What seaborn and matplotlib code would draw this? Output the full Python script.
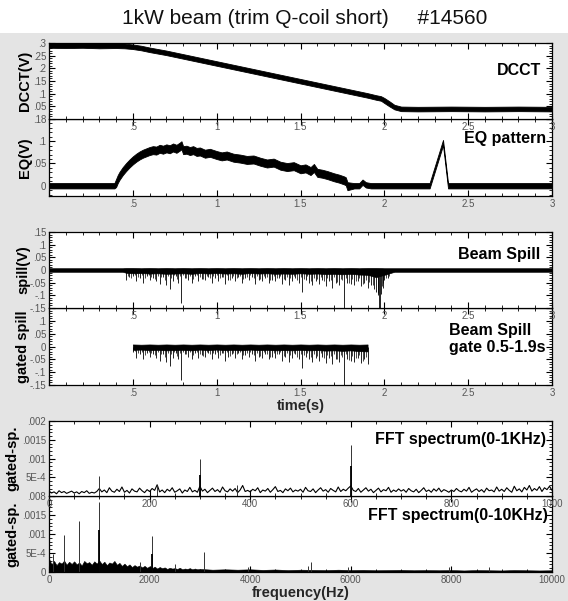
import numpy as np
import matplotlib
matplotlib.use("Agg")
import matplotlib.pyplot as plt
import seaborn as sns
from matplotlib.ticker import MultipleLocator
from matplotlib.patches import Rectangle

sns.set_style("ticks")
plt.rcParams['font.family'] = ['Liberation Sans', 'DejaVu Sans']

# ---------------- data ----------------
title = "1kW beam (trim Q-coil short)     #14560"

# DCCT band (upper / lower edge of the noisy trace)
dcct_t  = [0.0, 0.1, 0.2, 0.3, 0.4, 0.45, 0.5, 0.55, 0.6, 0.7, 0.8, 0.9, 1.0, 1.1, 1.2, 1.3, 1.4, 1.5,
           1.6, 1.7, 1.8, 1.9, 1.95, 1.98, 2.0, 2.03, 2.06, 2.1, 2.2, 2.4, 2.6, 2.8, 3.0]
dcct_hi = [0.300, 0.299, 0.300, 0.298, 0.299, 0.298, 0.294, 0.289, 0.282, 0.270, 0.256, 0.242, 0.228,
           0.214, 0.200, 0.186, 0.172, 0.158, 0.144, 0.130, 0.116, 0.102, 0.094, 0.090, 0.083, 0.070,
           0.056, 0.049, 0.048, 0.049, 0.048, 0.049, 0.048]
dcct_lo = [0.281, 0.280, 0.281, 0.279, 0.280, 0.279, 0.276, 0.271, 0.264, 0.252, 0.238, 0.224, 0.210,
           0.196, 0.182, 0.168, 0.154, 0.140, 0.126, 0.112, 0.098, 0.084, 0.076, 0.072, 0.063, 0.050,
           0.038, 0.031, 0.030, 0.031, 0.030, 0.031, 0.030]

# EQ pattern: centre of the noisy trace and its half thickness
eq_t = [0.0, 0.2, 0.39, 0.40, 0.41, 0.42, 0.44, 0.46, 0.48, 0.5, 0.52, 0.54, 0.56, 0.58, 0.6, 0.62,
        0.64, 0.66, 0.68, 0.7, 0.72, 0.74, 0.76, 0.78, 0.79, 0.80, 0.82, 0.84, 0.86, 0.88, 0.9, 0.93,
        0.96, 1.0, 1.03, 1.06, 1.1, 1.14, 1.18, 1.22, 1.26, 1.3, 1.34, 1.38, 1.42, 1.46, 1.5, 1.53,
        1.56, 1.58, 1.6, 1.63, 1.66, 1.7, 1.73, 1.76, 1.77, 1.78, 1.82, 1.85, 1.87, 1.89, 1.92, 2.0,
        2.27, 2.35, 2.38, 2.4, 2.7, 3.0]
eq_c = [0, 0, 0, 0.006, 0.015, 0.022, 0.033, 0.042, 0.050, 0.057, 0.063, 0.068, 0.072, 0.075, 0.078,
        0.080, 0.079, 0.083, 0.081, 0.084, 0.082, 0.086, 0.083, 0.088, 0.091, 0.080, 0.081, 0.078,
        0.080, 0.076, 0.077, 0.072, 0.074, 0.069, 0.066, 0.068, 0.063, 0.061, 0.058, 0.059, 0.054,
        0.050, 0.052, 0.045, 0.042, 0.044, 0.037, 0.039, 0.033, 0.040, 0.029, 0.027, 0.024, 0.019,
        0.016, 0.012, 0.010, -0.001, 0.0, 0.0, 0.008, 0.002, 0.0, 0.0, 0.0, 0.097, 0.0, 0.0, 0.0, 0.0]
eq_w = [0.006] * 3 + [0.009] * 55 + [0.006] * 12

# Beam spill: dense noise band and negative spikes
spill_t  = [0.0, 0.44, 0.46, 0.5, 0.55, 0.6, 0.65, 0.7, 0.75, 0.8, 0.85, 0.9, 0.95, 1.0, 1.05, 1.1,
            1.15, 1.2, 1.25, 1.3, 1.35, 1.4, 1.45, 1.5, 1.55, 1.6, 1.65, 1.7, 1.75, 1.8, 1.85, 1.9,
            1.95, 2.0, 2.04, 2.06, 3.0]
spill_hi = [0.007, 0.007, 0.008, 0.008, 0.007, 0.008, 0.007, 0.008, 0.007, 0.008, 0.007, 0.008,
            0.007, 0.008, 0.007, 0.008, 0.007, 0.008, 0.007, 0.008, 0.007, 0.008, 0.007, 0.008,
            0.007, 0.008, 0.007, 0.008, 0.007, 0.008, 0.007, 0.008, 0.008, 0.007, 0.007, 0.007, 0.007]
spill_lo = [-0.007, -0.007, -0.011, -0.013, -0.012, -0.014, -0.013, -0.015, -0.014, -0.013, -0.015,
            -0.012, -0.014, -0.012, -0.014, -0.013, -0.015, -0.012, -0.014, -0.013, -0.015, -0.014,
            -0.015, -0.013, -0.015, -0.014, -0.016, -0.015, -0.017, -0.015, -0.018, -0.019, -0.028,
            -0.019, -0.011, -0.007, -0.007]
spk_t = [0.46, 0.48, 0.50, 0.52, 0.545, 0.56, 0.585, 0.60, 0.62, 0.64, 0.66, 0.68, 0.70, 0.72, 0.74,
         0.755, 0.77, 0.79, 0.81, 0.83, 0.85, 0.87, 0.89, 0.91, 0.93, 0.95, 0.97, 0.99, 1.01, 1.03,
         1.05, 1.07, 1.09, 1.11, 1.13, 1.15, 1.17, 1.19, 1.21, 1.23, 1.25, 1.27, 1.29, 1.31, 1.33,
         1.35, 1.37, 1.39, 1.41, 1.43, 1.45, 1.47, 1.49, 1.51, 1.53, 1.55, 1.57, 1.59, 1.61, 1.63,
         1.65, 1.67, 1.69, 1.71, 1.73, 1.76, 1.78, 1.80, 1.82, 1.84, 1.86, 1.88, 1.90, 1.92, 1.94,
         1.95, 1.96, 1.965, 1.97, 1.975, 1.98, 1.99, 2.00, 2.02]
spk_v = [-0.040, -0.028, -0.022, -0.045, -0.030, -0.050, -0.025, -0.040, -0.030, -0.045, -0.055,
         -0.028, -0.060, -0.075, -0.045, -0.025, -0.050, -0.130, -0.030, -0.040, -0.050, -0.024,
         -0.045, -0.035, -0.040, -0.026, -0.050, -0.030, -0.045, -0.027, -0.055, -0.040, -0.030,
         -0.045, -0.026, -0.050, -0.032, -0.040, -0.028, -0.055, -0.040, -0.045, -0.030, -0.050,
         -0.040, -0.045, -0.030, -0.055, -0.040, -0.060, -0.045, -0.030, -0.050, -0.085, -0.040,
         -0.050, -0.060, -0.045, -0.055, -0.040, -0.065, -0.045, -0.070, -0.050, -0.060, -0.150,
         -0.050, -0.055, -0.060, -0.045, -0.065, -0.050, -0.070, -0.060, -0.075, -0.085, -0.090,
         -0.100, -0.150, -0.150, -0.095, -0.070, -0.040, -0.030]
grass_t = [0.47, 0.49, 0.51, 0.53, 0.555, 0.57, 0.595, 0.61, 0.63, 0.65, 0.67, 0.69, 0.71, 0.73,
           0.745, 0.765, 0.78, 0.80, 0.82, 0.84, 0.86, 0.88, 0.90, 0.92, 0.94, 0.96, 0.98, 1.00,
           1.02, 1.04, 1.06, 1.08, 1.10, 1.12, 1.14, 1.16, 1.18, 1.20, 1.22, 1.24, 1.26, 1.28, 1.30,
           1.32, 1.34, 1.36, 1.38, 1.40, 1.42, 1.44, 1.46, 1.48, 1.50, 1.52, 1.54, 1.56, 1.58, 1.60,
           1.62, 1.64, 1.66, 1.68, 1.70, 1.72, 1.74, 1.75, 1.77, 1.79, 1.81, 1.83, 1.85, 1.87, 1.89,
           1.91, 1.93, 1.985, 1.995, 2.01, 2.03]
grass_v = [-0.022, -0.030, -0.019, -0.026, -0.021, -0.033, -0.020, -0.027, -0.035, -0.022, -0.029,
           -0.040, -0.024, -0.031, -0.020, -0.036, -0.025, -0.021, -0.030, -0.023, -0.034, -0.020,
           -0.028, -0.037, -0.022, -0.031, -0.024, -0.020, -0.033, -0.026, -0.021, -0.038, -0.025,
           -0.030, -0.022, -0.035, -0.027, -0.021, -0.032, -0.024, -0.036, -0.022, -0.029, -0.041,
           -0.025, -0.031, -0.023, -0.036, -0.027, -0.033, -0.024, -0.039, -0.028, -0.034, -0.025,
           -0.042, -0.030, -0.036, -0.027, -0.045, -0.032, -0.038, -0.029, -0.047, -0.034, -0.040,
           -0.031, -0.052, -0.036, -0.043, -0.033, -0.055, -0.040, -0.048, -0.060, -0.065, -0.050,
           -0.030, -0.022]
gate = (0.5, 1.9)

# FFT 0-1 kHz (values in units of 1e-4, every 5 Hz)
fft1_f = np.arange(0, 1001, 5)
fft1_v = [1.3, 0.8, 1.1, 0.6, 1.4, 0.9, 1.2, 0.7, 1.0, 1.3, 0.8, 1.1, 0.6, 1.2, 0.9, 1.4, 0.7, 1.0, 0.8, 1.2,
          2.0, 1.1, 1.6, 0.9, 2.2, 1.3, 1.0, 1.8, 1.2, 2.4, 1.0, 1.5, 0.8, 1.9, 1.3, 1.1, 2.1, 1.4, 0.9, 1.7,
          1.2, 2.0, 1.5, 3.0, 1.1, 1.6, 0.9, 1.8, 1.3, 2.2, 1.0, 1.4, 1.9, 0.8, 1.6, 1.2, 2.3, 1.1, 1.5, 1.0,
          2.6, 1.3, 1.8, 0.9, 1.5, 2.1, 1.2, 1.7, 1.0, 2.4, 1.4, 1.1, 1.9, 1.3, 2.0, 0.9, 1.6, 2.8, 1.2, 1.5,
          1.1, 1.8, 1.4, 2.2, 0.9, 1.6, 1.3, 2.0, 1.0, 1.7, 2.5, 1.2, 1.5, 0.9, 1.9, 1.4, 2.1, 1.1, 1.6, 1.3,
          1.8, 1.0, 2.3, 1.4, 1.2, 1.9, 0.9, 1.6, 2.2, 1.3, 1.7, 1.0, 2.0, 1.5, 1.1, 2.4, 1.2, 1.8, 1.4, 2.1,
          2.7, 1.5, 1.2, 2.0, 1.0, 1.6, 2.2, 1.3, 1.8, 0.9, 1.5, 2.1, 1.1, 1.7, 1.4, 2.3, 1.0, 1.6, 1.2, 1.9,
          1.3, 1.7, 1.0, 2.0, 1.4, 1.1, 1.8, 0.9, 1.5, 2.2, 1.2, 1.6, 1.0, 1.9, 1.3, 2.1, 1.1, 1.7, 1.4, 1.0,
          1.6, 1.2, 2.0, 1.4, 1.1, 1.8, 1.3, 2.3, 1.0, 1.5, 1.9, 1.2, 1.7, 1.0, 2.1, 1.4, 1.6, 1.1, 2.4, 1.3,
          1.8, 1.2, 2.2, 1.5, 1.0, 2.6, 1.4, 1.9, 1.1, 2.3, 1.6, 2.8, 1.3, 2.0, 1.5, 2.5, 1.2, 2.2, 1.7, 2.6,
          1.5]
fft1_pk_f = [100, 215, 300, 373, 600]
fft1_pk_v = [5.3, 3.0, 10.0, 3.0, 13.5]
fft1_in_f = [300, 600]
fft1_in_v = [5.5, 8.0]

# FFT 0-10 kHz noise floor (units of 1e-4): every 50 Hz below 3 kHz, every 250 Hz above
fft10_f = list(range(0, 3000, 50)) + list(range(3000, 10001, 250))
fft10_v = [3.5, 2.0, 2.9, 1.8, 2.6, 2.2, 3.0, 1.9, 2.7, 2.1,
           2.8, 2.0, 2.5, 1.7, 2.9, 2.3, 2.6, 1.9, 2.8, 2.2,
           3.0, 2.1, 2.7, 1.8, 2.5, 2.2, 2.9, 1.9, 2.4, 1.6,
           2.2, 1.5, 2.0, 1.3, 1.8, 1.4, 1.7, 1.2, 1.6, 1.1,
           1.5, 1.0, 1.4, 0.9, 1.3, 1.0, 1.2, 0.8, 1.1, 0.9,
           1.0, 0.8, 1.1, 0.7, 0.9, 0.8, 1.0, 0.7, 0.9, 0.7,
           0.8, 0.6, 0.7, 0.6, 0.7, 0.55, 0.65, 0.5, 0.6, 0.55, 0.5, 0.6, 0.5, 0.55, 0.45,
           0.5, 0.55, 0.45, 0.5, 0.45, 0.5, 0.4, 0.5, 0.45, 0.4, 0.5, 0.45, 0.4, 0.45]
fft10_pk_f = [70, 300, 600, 1000, 1800, 2050, 2500, 3080, 3950, 5150, 5200, 5950, 7950, 8750]
fft10_pk_v = [4.7, 9.7, 13.3, 18.3, 2.6, 9.5, 2.0, 5.3, 1.4, 1.6, 2.6, 1.4, 1.2, 1.3]
fft10_in_f = [1000, 2050]
fft10_in_v = [11.0, 4.7]

# ---------------- figure ----------------
fig = plt.figure(figsize=(5.68, 6.01), dpi=100)
fig.patch.set_facecolor('#e4e4e4')
fig.patches.append(Rectangle((0, 0.945), 1, 0.055, transform=fig.transFigure,
                             facecolor='white', edgecolor='none', zorder=0))
fig.text(0.537, 0.970, title, ha='center', va='center', fontsize=15, color='#111111')

L, W = 49 / 568, 503 / 568
rects = [(0.8020, 0.1265), (0.6739, 0.1281), (0.4875, 0.1265),
         (0.3594, 0.1281), (0.1747, 0.1248), (0.0483, 0.1265)]
axes = []
for i, (b, h) in enumerate(rects):
    ax = fig.add_axes([L, b, W, h])
    ax.set_zorder(10 - i)
    ax.set_facecolor('white')
    axes.append(ax)
ax1, ax2, ax3, ax4, ax5, ax6 = axes

tick_col = '#555555'
for ax in axes:
    for s in ax.spines.values():
        s.set_visible(True)
        s.set_linewidth(0.9)
        s.set_color('black')
    ax.tick_params(which='both', direction='in', top=True, right=True, bottom=True, left=True,
                   color='black', labelcolor=tick_col, labelsize=7, pad=2)
    ax.tick_params(which='major', length=4, width=0.8)
    ax.tick_params(which='minor', length=2, width=0.6)

time_ticks = [0, 0.5, 1, 1.5, 2, 2.5, 3]
time_lbls = ['', '.5', '1', '1.5', '2', '2.5', '3']
for ax in (ax1, ax2, ax3, ax4):
    ax.set_xlim(0, 3)
    ax.set_xticks(time_ticks, time_lbls)
    ax.xaxis.set_minor_locator(MultipleLocator(0.1))
    ax.yaxis.set_minor_locator(MultipleLocator(0.01))

# panel 1: DCCT
ax1.fill_between(dcct_t, dcct_lo, dcct_hi, color='black', lw=0.6, edgecolor='black')
ax1.set_ylim(0, 0.3)
ax1.set_yticks([0, .05, .1, .15, .2, .25, .3], ['', '.05', '.1', '.15', '.2', '.25', '.3'])

# panel 2: EQ
eq_c_a, eq_w_a = np.array(eq_c), np.array(eq_w)
ax2.fill_between(eq_t, eq_c_a - eq_w_a, eq_c_a + eq_w_a, color='black', lw=0.6, edgecolor='black')
ax2.set_ylim(-0.023, 0.15)
ax2.set_yticks([0, .05, .1, .15], ['0', '.05', '.1', '.18'])

# panel 3: spill
spill_t_a = np.array(spill_t)
ax3.fill_between(spill_t, spill_lo, spill_hi, color='black', lw=0.5, edgecolor='black')
ax3.vlines(spk_t, 0, spk_v, color='black', lw=0.6)
ax3.vlines(grass_t, 0, grass_v, color='black', lw=0.5)
sp_ticks = [-.15, -.1, -.05, 0, .05, .1, .15]
ax3.set_ylim(-0.15, 0.15)
ax3.set_yticks(sp_ticks, ['-.15', '-.1', '-.05', '0', '.05', '.1', '.15'])
ax4.set_ylim(-0.15, 0.15)
ax4.set_yticks(sp_ticks, ['-.15', '-.1', '-.05', '0', '.05', '.1', ''])

# panel 4: gated spill
gm = (spill_t_a >= gate[0]) & (spill_t_a <= gate[1])
ax4.fill_between(spill_t_a[gm], np.array(spill_lo)[gm], np.array(spill_hi)[gm],
                 color='black', lw=0.5, edgecolor='black')
spk_t_a, grass_t_a = np.array(spk_t), np.array(grass_t)
sm = (spk_t_a >= gate[0]) & (spk_t_a <= gate[1])
gsm = (grass_t_a >= gate[0]) & (grass_t_a <= gate[1])
ax4.vlines(spk_t_a[sm], 0, np.array(spk_v)[sm], color='black', lw=0.6)
ax4.vlines(grass_t_a[gsm], 0, np.array(grass_v)[gsm], color='black', lw=0.5)
ax4.set_xlabel('time(s)', fontsize=10.5, fontweight='bold', labelpad=1)

# panel 5: FFT 0-1kHz
sns.lineplot(x=fft1_f, y=np.array(fft1_v) * 1e-4, ax=ax5, color='black', lw=0.8)
ax5.vlines(fft1_pk_f, 0, np.array(fft1_pk_v) * 1e-4, color='#333333', lw=0.7)
ax5.vlines(fft1_in_f, 0, np.array(fft1_in_v) * 1e-4, color='black', lw=1.3)
ax5.set_xlim(0, 1000)
ax5.set_xticks([0, 200, 400, 600, 800, 1000], ['0', '200', '400', '600', '800', '1000'])
ax5.xaxis.set_minor_locator(MultipleLocator(50))

# panel 6: FFT 0-10kHz
ax6.fill_between(fft10_f, 0, np.array(fft10_v) * 1e-4, color='black', lw=0.4, edgecolor='black')
ax6.vlines(fft10_pk_f, 0, np.array(fft10_pk_v) * 1e-4, color='#333333', lw=0.7)
ax6.vlines(fft10_in_f, 0, np.array(fft10_in_v) * 1e-4, color='black', lw=1.3)
ax6.set_xlim(0, 10000)
ax6.set_xticks([0, 2000, 4000, 6000, 8000, 10000], ['0', '2000', '4000', '6000', '8000', '10000'])
ax6.xaxis.set_minor_locator(MultipleLocator(500))
ax6.set_xlabel('frequency(Hz)', fontsize=10.5, fontweight='bold', labelpad=1)

fft_ticks = [0, .0005, .001, .0015, .002]
for ax in (ax5, ax6):
    ax.set_ylim(0, 0.002)
    ax.yaxis.set_minor_locator(MultipleLocator(0.0001))
    ax.set_ylabel('')
ax5.set_yticks(fft_ticks, ['', '5E-4', '.001', '.0015', '.002'])
ax6.set_yticks(fft_ticks, ['0', '5E-4', '.001', '.0015', '.008'])

# y labels
ylabels = ['DCCT(V)', 'EQ(V)', 'spill(V)', 'gated spill', 'gated-sp.', 'gated-sp.']
ylab_x = [-0.034, -0.034, -0.036, -0.038, -0.058, -0.058]
for ax, lab, lx in zip(axes, ylabels, ylab_x):
    ax.set_ylabel(lab, fontsize=10.5, fontweight='bold', color='black')
    ax.yaxis.set_label_coords(lx, 0.5)

# panel captions
cap_kw = dict(ha='right', va='center', fontsize=11.5, fontweight='bold', color='black')
ax1.text(0.978, 0.64, 'DCCT', transform=ax1.transAxes, **cap_kw)
ax2.text(0.988, 0.75, 'EQ pattern', transform=ax2.transAxes, **cap_kw)
ax3.text(0.976, 0.70, 'Beam Spill', transform=ax3.transAxes, **cap_kw)
ax4.text(0.988, 0.60, 'Beam Spill\ngate 0.5-1.9s', transform=ax4.transAxes, ha='right',
         va='center', fontsize=11.5, fontweight='bold', color='black', multialignment='left',
         linespacing=1.2)
ax5.text(0.988, 0.76, 'FFT spectrum(0-1KHz)', transform=ax5.transAxes, **cap_kw)
ax6.text(0.992, 0.74, 'FFT spectrum(0-10KHz)', transform=ax6.transAxes, **cap_kw)

fig.savefig('out.png', dpi=100, facecolor=fig.get_facecolor())
